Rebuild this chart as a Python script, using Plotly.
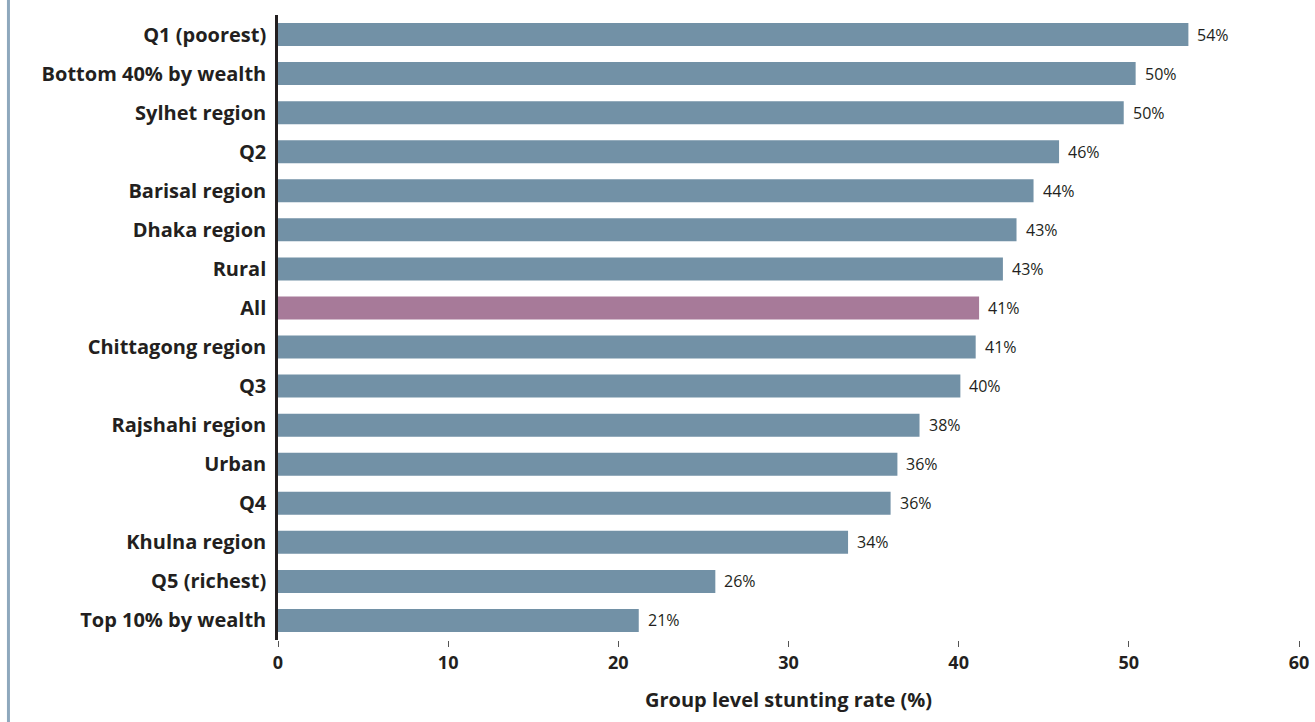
import plotly.graph_objects as go

categories = ["Q1 (poorest)", "Bottom 40% by wealth", "Sylhet region", "Q2",
              "Barisal region", "Dhaka region", "Rural", "All",
              "Chittagong region", "Q3", "Rajshahi region", "Urban", "Q4",
              "Khulna region", "Q5 (richest)", "Top 10% by wealth"]
values = [53.5, 50.4, 49.7, 45.9, 44.4, 43.4, 42.6, 41.2,
          41.0, 40.1, 37.7, 36.4, 36.0, 33.5, 25.7, 21.2]
value_labels = ["54%", "50%", "50%", "46%", "44%", "43%", "43%", "41%",
                "41%", "40%", "38%", "36%", "36%", "34%", "26%", "21%"]
x_ticks = [0, 10, 20, 30, 40, 50, 60]

BLUE = "#7291a6"
MAUVE = "#a77a99"
colors = [MAUVE if c == "All" else BLUE for c in categories]

FONT = "Open Sans"
TXT = "#231f20"
fig = go.Figure()
fig.add_trace(go.Bar(
    y=categories, x=values, orientation="h",
    marker=dict(color=colors, line=dict(width=0)),
    hoverinfo="skip",
))

for c, v, t in zip(categories, values, value_labels):
    fig.add_annotation(x=v, y=c, text=t, showarrow=False, xanchor="left",
                       xshift=7, font=dict(family=FONT, size=16, color=TXT))

fig.add_shape(type="line", xref="paper", yref="paper",
              x0=-0.2640, x1=-0.2640, y0=-0.2, y1=1.05,
              line=dict(color="#8ea8bd", width=3))

fig.update_layout(
    width=1315, height=722,
    margin=dict(l=278, r=16, t=15, b=82, pad=0, autoexpand=False),
    paper_bgcolor="white", plot_bgcolor="white",
    bargap=0.41,
    showlegend=False,
    font=dict(family=FONT, color=TXT),
    xaxis=dict(range=[0, 60], tickvals=x_ticks, showgrid=False, zeroline=False,
               automargin=False,
               showline=False, ticks="outside", ticklen=6, tickwidth=1,
               tickcolor="#555555",
               tickfont=dict(family=FONT, size=18, weight="bold", color=TXT),
               title=dict(text="Group level stunting rate (%)",
                          font=dict(family=FONT, size=20, weight="bold", color=TXT),
                          standoff=20)),
    yaxis=dict(autorange="reversed", showgrid=False, zeroline=False,
               automargin=False,
               showline=True, linecolor=TXT, linewidth=2.5,
               ticks="", ticklabelstandoff=5,
               tickfont=dict(family=FONT, size=20, weight="bold", color=TXT)),
)

fig.write_html(
    "out.html",
    config={"displayModeBar": False},
    post_script="document.body.style.margin='0';document.body.style.overflow='hidden';",
)
